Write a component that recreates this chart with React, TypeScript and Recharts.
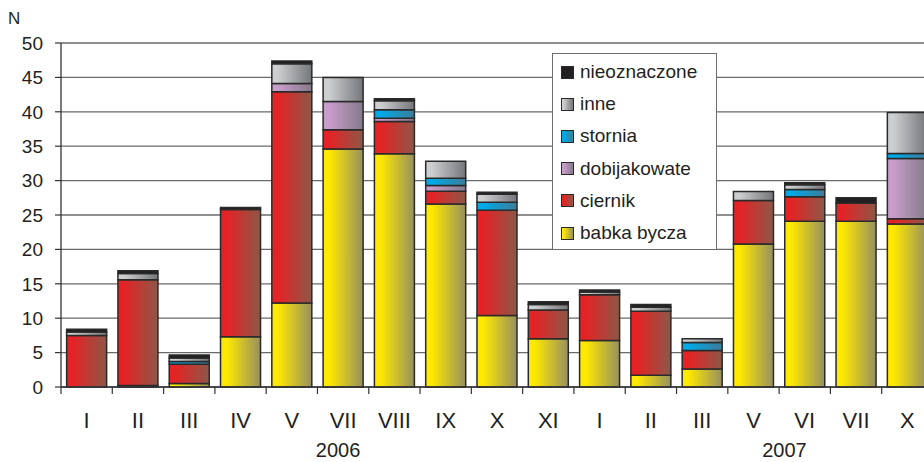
import React from "react";
import { BarChart, Bar, XAxis, YAxis, CartesianGrid } from "recharts";

// ---- data ----
const categories = ["I", "II", "III", "IV", "V", "VII", "VIII", "IX", "X", "XI", "I", "II", "III", "V", "VI", "VII", "X"];
const babkaBycza = [0, 0.2, 0.5, 7.3, 12.2, 34.6, 33.9, 26.6, 10.4, 7.0, 6.75, 1.7, 2.6, 20.8, 24.1, 24.1, 23.7];
const ciernik = [7.5, 15.4, 2.8, 18.5, 30.7, 2.8, 4.7, 1.85, 15.3, 4.2, 6.65, 9.3, 2.7, 6.3, 3.55, 2.6, 0.75];
const dobijakowate = [0, 0, 0, 0, 1.2, 4.1, 0.45, 0.85, 0, 0, 0, 0, 0, 0, 0, 0, 8.75];
const stornia = [0, 0, 0.4, 0, 0, 0, 1.25, 1.05, 1.15, 0, 0, 0, 1.15, 0, 1.05, 0, 0.75];
const inne = [0.5, 0.9, 0.5, 0, 2.9, 3.5, 1.3, 2.45, 1.15, 0.8, 0.4, 0.6, 0.55, 1.3, 0.7, 0, 5.95];
const nieoznaczone = [0.4, 0.4, 0.45, 0.3, 0.4, 0, 0.3, 0, 0.3, 0.4, 0.3, 0.4, 0, 0, 0.3, 0.8, 0];
const yTicks = [0, 5, 10, 15, 20, 25, 30, 35, 40, 45, 50];
const years = [
  { label: "2006", index: 5 },
  { label: "2007", index: 13 },
];
const yAxisLabel = "N";

// ---- styles ----
const yearDx: Record<string, number> = { "2006": -5, "2007": 31 };
const FONT = '"Liberation Sans", Arial, sans-serif';
const TEXT = "#231F20";
const STROKE = "#2a2a2a";

const series = [
  { key: "babka", name: "babka bycza", values: babkaBycza, from: "#FFE900", to: "#969060" },
  { key: "ciernik", name: "ciernik", values: ciernik, from: "#E52326", to: "#8C5847" },
  { key: "dobij", name: "dobijakowate", values: dobijakowate, from: "#C89DCA", to: "#847A8A" },
  { key: "stornia", name: "stornia", values: stornia, from: "#00AAE8", to: "#3D7C98" },
  { key: "inne", name: "inne", values: inne, from: "#CDCED0", to: "#75767A" },
  { key: "nieozn", name: "nieoznaczone", values: nieoznaczone, from: "#231F20", to: "#231F20" },
];

const data = categories.map((c, i) => {
  const row: Record<string, number | string> = { idx: i, cat: c };
  series.forEach((s) => (row[s.key] = s.values[i]));
  return row;
});

const XTick = (props: any) => {
  const { x, y, payload } = props;
  const i = Number(payload.value);
  const half = typeof payload.offset === "number" ? payload.offset : 25.65;
  const year = years.find((yr) => yr.index === i);
  return (
    <g>
      <line x1={x - half} x2={x - half} y1={y} y2={y + 7} stroke="#333" strokeWidth={1.2} />
      <text x={x} y={y + 41} textAnchor="middle" fontFamily={FONT} fontSize={22} fill={TEXT}>
        {categories[i]}
      </text>
      {year && (
        <text x={x + yearDx[year.label]} y={y + 70} textAnchor="middle" fontFamily={FONT} fontSize={20} fill={TEXT}>
          {year.label}
        </text>
      )}
    </g>
  );
};

const legendItems = [...series].reverse();

export default function App() {
  return (
    <div
      style={{
        position: "absolute",
        left: 0,
        top: 0,
        width: 924,
        height: 462,
        overflow: "hidden",
        background: "#fff",
      }}
    >
      <BarChart
        width={940}
        height={462}
        data={data}
        margin={{ top: 43, right: 7, bottom: 0, left: 0 }}
        barCategoryGap="11%"
      >
        <defs>
          {series.map((s) => (
            <linearGradient key={s.key} id={`g-${s.key}`} x1="0" y1="0" x2="1" y2="0">
              <stop offset="0" stopColor={s.from} />
              <stop offset="0.15" stopColor={s.from} />
              <stop offset="1" stopColor={s.to} />
            </linearGradient>
          ))}
        </defs>
        <CartesianGrid vertical={false} stroke="#6a6a6a" strokeWidth={1.3} />
        <XAxis
          dataKey="idx"
          type="category"
          height={75}
          interval={0}
          tickSize={0}
          tickMargin={0}
          tickLine={false}
          axisLine={{ stroke: "#333", strokeWidth: 1.3 }}
          tick={<XTick />}
        />
        <YAxis
          width={61}
          domain={[0, 50]}
          ticks={yTicks}
          interval={0}
          tickSize={6}
          tickMargin={12}
          axisLine={{ stroke: "#333", strokeWidth: 1.3 }}
          tickLine={{ stroke: "#333", strokeWidth: 1.2 }}
          tick={{ fill: TEXT, fontSize: 19, fontFamily: FONT }}
        />
        {series.map((s) => (
          <Bar
            key={s.key}
            dataKey={s.key}
            name={s.name}
            stackId="a"
            fill={`url(#g-${s.key})`}
            stroke={STROKE}
            strokeWidth={1.5}
            isAnimationActive={false}
          />
        ))}
      </BarChart>
      <div
        style={{
          position: "absolute",
          left: 8,
          top: 9,
          fontFamily: FONT,
          fontSize: 17,
          color: TEXT,
          lineHeight: "20px",
        }}
      >
        {yAxisLabel}
      </div>
      <div
        style={{
          position: "absolute",
          left: 552,
          top: 53,
          width: 163,
          height: 193,
          border: "1px solid #6d6d6d",
          background: "#fff",
          boxSizing: "content-box",
          paddingTop: 2,
        }}
      >
        {legendItems.map((s) => (
          <div
            key={s.key}
            style={{
              height: 32.2,
              display: "flex",
              alignItems: "center",
              fontFamily: FONT,
              fontSize: 19,
              color: TEXT,
              whiteSpace: "nowrap",
            }}
          >
            <span
              style={{
                display: "inline-block",
                width: 11,
                height: 11,
                marginLeft: 8,
                marginRight: 6,
                border: `1.5px solid ${STROKE}`,
                background: `linear-gradient(to right, ${s.from} 0%, ${s.from} 15%, ${s.to} 100%)`,
              }}
            />
            {s.name}
          </div>
        ))}
      </div>
    </div>
  );
}
